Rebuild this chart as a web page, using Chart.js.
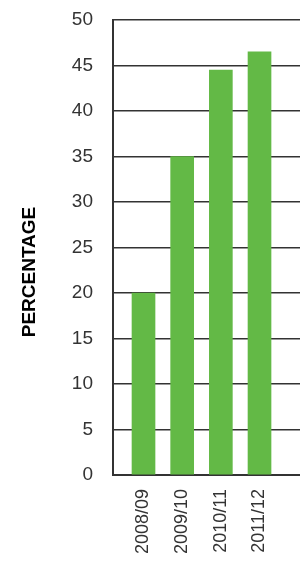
<!DOCTYPE html>
<html>
<head>
<meta charset="utf-8">
<script src="https://cdn.jsdelivr.net/npm/chart.js@4/dist/chart.umd.min.js"></script>
<style>
  html, body { margin: 0; padding: 0; background: #fff; }
  #wrap { width: 300px; height: 562px; position: relative; }
</style>
</head>
<body>
<div id="wrap"><canvas id="bars"></canvas></div>
<script>
const categories = ['2008/09', '2009/10', '2010/11', '2011/12'];
const percentages = [20, 35, 44.5, 46.5];
const yMin = 0, yMax = 50, yStep = 5;
const yTitle = 'PERCENTAGE';

const ink = '#333333';
const barGreen = '#63b946';
const font = 'Liberation Sans, Arial, sans-serif';

// draws the rotated axis title in the left gutter
const sideTitle = {
  id: 'sideTitle',
  afterDraw(chart) {
    const ctx = chart.ctx;
    ctx.save();
    ctx.translate(30, 272);
    ctx.rotate(-Math.PI / 2);
    ctx.font = 'bold 19px ' + font;
    ctx.fillStyle = '#000';
    ctx.textAlign = 'center';
    ctx.textBaseline = 'middle';
    ctx.fillText(yTitle, 0, 0);
    ctx.restore();
  }
};

new Chart(document.getElementById('bars').getContext('2d'), {
  type: 'bar',
  data: {
    datasets: [{
      data: percentages.map((v, i) => ({x: i + 1, y: v})),
      backgroundColor: barGreen,
      barThickness: 23
    }]
  },
  options: {
    responsive: true,
    maintainAspectRatio: false,
    animation: false,
    layout: {padding: {top: 20, right: 0, left: 0, bottom: 0}},
    plugins: {legend: {display: false}, tooltip: {enabled: false}},
    scales: {
      x: {
        type: 'linear',
        offset: false,
        min: 0.211,
        max: 5.047,
        afterBuildTicks: s => { s.ticks = categories.map((c, i) => ({value: i + 1})); },
        afterFit: s => { s.height = 87; },
        grid: {display: false, drawTicks: false, offset: false},
        border: {display: true, color: ink, width: 2},
        ticks: {
          autoSkip: false,
          minRotation: 90,
          maxRotation: 90,
          padding: 14,
          color: ink,
          font: {family: font, size: 18},
          callback: v => categories[v - 1]
        }
      },
      y: {
        min: yMin,
        max: yMax,
        afterFit: s => { s.width = 113; s.paddingTop = 0; s.paddingBottom = 0; },
        grid: {color: ink, lineWidth: 1.5, drawTicks: false},
        border: {display: true, color: ink, width: 2},
        ticks: {
          stepSize: yStep,
          padding: 20,
          color: ink,
          font: {family: font, size: 19}
        }
      }
    }
  },
  plugins: [sideTitle]
});
</script>
</body>
</html>
